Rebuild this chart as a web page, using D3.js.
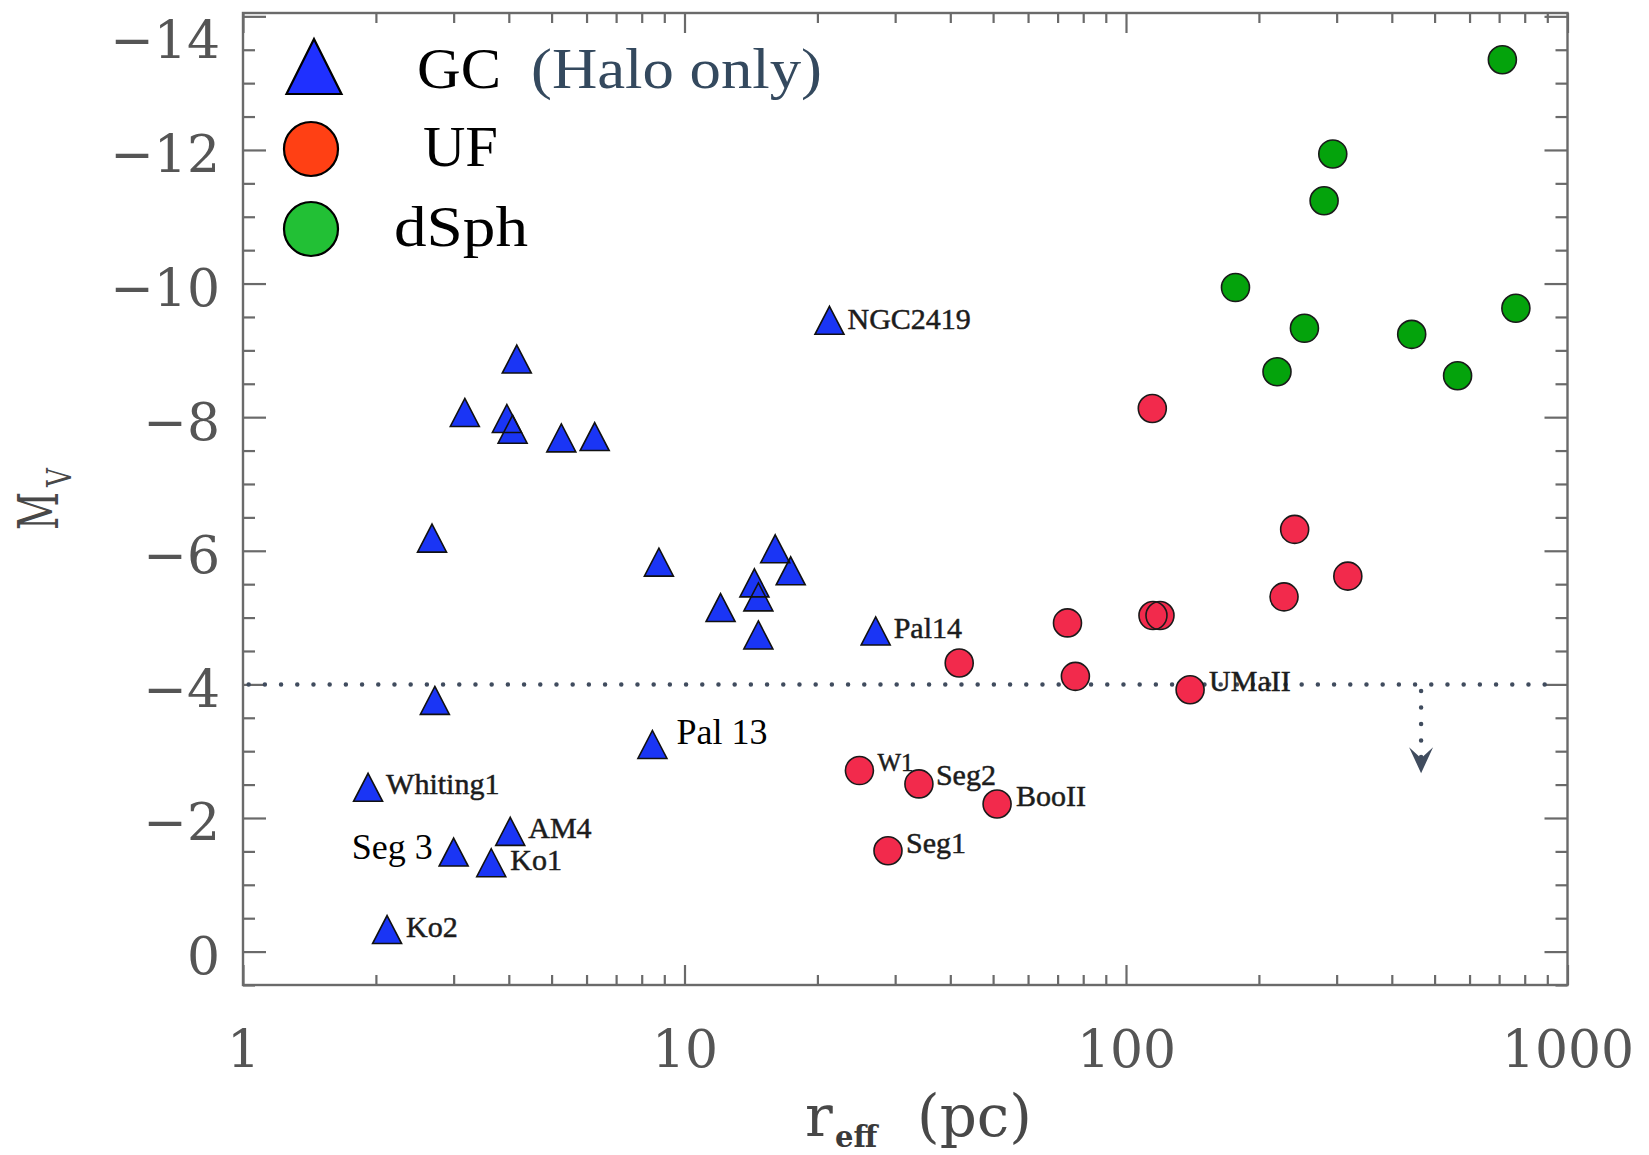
<!DOCTYPE html>
<html>
<head>
<meta charset="utf-8">
<script src="https://cdn.jsdelivr.net/npm/d3@7"></script>
<style>
  html, body { margin: 0; padding: 0; background: #ffffff; }
  svg { display: block; }
</style>
</head>
<body>
<svg id="chart" width="1649" height="1155"></svg>
<script>
// ---------------- DATA ----------------
// Globular clusters (halo only): effective radius (pc), absolute magnitude M_V
const gcNames = ["", "", "", "", "", "", "", "", "", "", "", "", "", "", "NGC2419", "", "Pal 13", "Whiting1", "AM4", "Seg 3", "Ko1", "Ko2", "Pal14"];
const gcReff  = [4.17, 3.18, 3.96, 4.08, 5.26, 6.26, 2.68, 8.75, 16.05, 17.4, 14.4, 14.7, 12.07, 14.7, 21.3, 2.72, 8.46, 1.92, 4.03, 3.0, 3.65, 2.12, 27.1];
const gcMv    = [-8.87, -8.07, -7.98, -7.82, -7.69, -7.71, -6.19, -5.83, -6.03, -5.70, -5.52, -5.31, -5.15, -4.74, -9.45, -3.76, -3.10, -2.46, -1.80, -1.49, -1.33, -0.33, -4.80];

// Ultra-faint dwarfs
const ufNames = ["", "", "", "", "", "", "", "", "", "UMaII", "W1", "Seg2", "BooII", "Seg1"];
const ufReff  = [114.7, 241, 318, 228, 115.1, 119.4, 73.7, 41.9, 76.8, 139.7, 24.9, 33.96, 51.05, 28.9];
const ufMv    = [-8.13, -6.32, -5.62, -5.31, -5.03, -5.03, -4.92, -4.32, -4.12, -3.92, -2.71, -2.51, -2.21, -1.51];

// Classical dwarf spheroidals
const dsReff  = [712, 294, 281, 177, 764, 253.6, 443.7, 219.8, 563.7];
const dsMv    = [-13.35, -11.94, -11.24, -9.94, -9.63, -9.33, -9.24, -8.68, -8.62];

// Threshold line and arrow (data coordinates)
const thresholdMv = -4;
const thresholdR  = [1.03, 910];
const arrowR      = 466;
const arrowMv     = [-3.9, -2.67];

// Axis ticks
const xMajorTicks = [1, 10, 100, 1000];
const yMajorTicks = [0, -2, -4, -6, -8, -10, -12, -14];

// Legend
const legendLabels = ["GC", "UF", "dSph"];
const legendNote = "(Halo only)";

// ---------------- STYLE / LAYOUT ----------------
const W = 1649, H = 1155;
const plot = { left: 243, right: 1567.5, top: 13, bottom: 985 };
const colors = {
  gc: "#1a35f5", uf: "#f22a4c", ds: "#04a30c",
  legGc: "#1f30ff", legUf: "#ff4014", legDs: "#22c035",
  axis: "#6a6a6a", tickText: "#555555", dotted: "#404c5e", note: "#34495e"
};
// label offsets (pixels) relative to the marker
const labelStyle = {
  "NGC2419": { dx: 18, dy: 9 },
  "Whiting1": { dx: 18, dy: 7 },
  "AM4": { dx: 18, dy: 7 },
  "Ko1": { dx: 19, dy: 7 },
  "Ko2": { dx: 19, dy: 7 },
  "Pal14": { dx: 18, dy: 7 },
  "Seg 3": { dx: -21, dy: 7, anchor: "end", pal: true },
  "Pal 13": { dx: 24, dy: -1, pal: true },
  "UMaII": { dx: 19, dy: 1 },
  "W1": { dx: 18, dy: 0, size: 25 },
  "Seg2": { dx: 17, dy: 1 },
  "BooII": { dx: 19, dy: 2 },
  "Seg1": { dx: 18, dy: 2 }
};

const svg = d3.select("#chart");

const x = d3.scaleLog().domain([1, 1000]).range([plot.left, plot.right]);
const y = d3.scaleLinear().domain([0.5, -14.05]).range([plot.bottom, plot.top]);

// minor tick values
const xMinor = [];
[1, 10, 100].forEach(d => { for (let k = 2; k <= 9; k++) xMinor.push(d * k); });
const yMinor = d3.range(0.5, -14.01, -0.5).filter(v => Math.abs(v % 2) > 1e-6);

// ---------------- AXES ----------------
const axesG = svg.append("g");
function styleAxis(g) {
  g.select(".domain").remove();
  g.selectAll(".tick line").attr("stroke", colors.axis).attr("stroke-width", 2.2);
}
// left
axesG.append("g").attr("transform", `translate(${plot.left},0)`)
  .call(d3.axisLeft(y).tickValues(yMajorTicks).tickSize(-23).tickPadding(23)
    .tickFormat(d => d === 0 ? "0" : "\u2212" + Math.abs(d)))
  .call(styleAxis)
  .call(g => g.selectAll("text")
    .attr("font-family", "DejaVu Serif").attr("font-size", 52)
    .attr("fill", colors.tickText).attr("dy", "0.42em")
    .filter(d => d === -14).attr("dy", "0.8em"));
axesG.append("g").attr("transform", `translate(${plot.left},0)`)
  .call(d3.axisLeft(y).tickValues(yMinor).tickSize(-12).tickFormat(""))
  .call(styleAxis);
// right
axesG.append("g").attr("transform", `translate(${plot.right},0)`)
  .call(d3.axisRight(y).tickValues(yMajorTicks).tickSize(-23).tickFormat(""))
  .call(styleAxis);
axesG.append("g").attr("transform", `translate(${plot.right},0)`)
  .call(d3.axisRight(y).tickValues(yMinor).tickSize(-12).tickFormat(""))
  .call(styleAxis);
// bottom
axesG.append("g").attr("transform", `translate(0,${plot.bottom})`)
  .call(d3.axisBottom(x).tickValues(xMajorTicks).tickSize(-20).tickFormat(d3.format("d")))
  .call(styleAxis)
  .call(g => g.selectAll("text")
    .attr("font-family", "DejaVu Serif").attr("font-size", 52)
    .attr("fill", colors.tickText).attr("dy", null).attr("y", 82));
axesG.append("g").attr("transform", `translate(0,${plot.bottom})`)
  .call(d3.axisBottom(x).tickValues(xMinor).tickSize(-10).tickFormat(""))
  .call(styleAxis);
// top
axesG.append("g").attr("transform", `translate(0,${plot.top})`)
  .call(d3.axisTop(x).tickValues(xMajorTicks).tickSize(-20).tickFormat(""))
  .call(styleAxis);
axesG.append("g").attr("transform", `translate(0,${plot.top})`)
  .call(d3.axisTop(x).tickValues(xMinor).tickSize(-10).tickFormat(""))
  .call(styleAxis);
// frame
svg.append("rect")
  .attr("x", plot.left).attr("y", plot.top)
  .attr("width", plot.right - plot.left).attr("height", plot.bottom - plot.top)
  .attr("fill", "none").attr("stroke", colors.axis).attr("stroke-width", 2.4);

// axis titles
const xt = svg.append("text").attr("font-family", "DejaVu Serif").attr("fill", "#484848");
xt.append("tspan").attr("x", 805).attr("y", 1136).attr("font-size", 58).text("r");
xt.append("tspan").attr("x", 835).attr("y", 1147).attr("font-size", 29).attr("font-weight", "bold").attr("fill", "#3a3a3a").text("eff");
xt.append("tspan").attr("x", 917).attr("y", 1136).attr("font-size", 58).text("(pc)");

const yt = svg.append("g").attr("transform", "translate(58,530) rotate(-90)");
yt.append("text").attr("x", 0).attr("y", 0).attr("font-family", "DejaVu Serif")
  .attr("font-size", 56).attr("fill", "#484848")
  .attr("textLength", 38).attr("lengthAdjust", "spacingAndGlyphs").text("M");
yt.append("text").attr("x", 43).attr("y", 13).attr("font-family", "DejaVu Serif")
  .attr("font-size", 34).attr("fill", "#484848")
  .attr("textLength", 19).attr("lengthAdjust", "spacingAndGlyphs").text("V");

// ---------------- THRESHOLD LINE ----------------
const line = d3.line().x(d => x(d[0])).y(d => y(d[1]));
svg.append("path")
  .attr("d", line(thresholdR.map(r => [r, thresholdMv])))
  .attr("fill", "none").attr("stroke", colors.dotted).attr("stroke-width", 4.5)
  .attr("stroke-linecap", "round").attr("stroke-dasharray", "0,16.2");
const ax = x(arrowR), ay0 = y(arrowMv[0]), ay1 = y(arrowMv[1]);
svg.append("path")
  .attr("d", line([[arrowR, arrowMv[0]], [arrowR, arrowMv[1] - 0.2]]))
  .attr("fill", "none").attr("stroke", colors.dotted).attr("stroke-width", 4.5)
  .attr("stroke-linecap", "round").attr("stroke-dasharray", "0,16.5");
svg.append("path")
  .attr("d", `M${ax},${ay1} L${ax - 12},${ay1 - 26} L${ax},${ay1 - 15} L${ax + 12},${ay1 - 26} Z`)
  .attr("fill", colors.dotted);

// ---------------- MARKERS ----------------
const gc = gcReff.map((r, i) => ({ r, m: gcMv[i], name: gcNames[i] }));
const uf = ufReff.map((r, i) => ({ r, m: ufMv[i], name: ufNames[i] }));
const ds = dsReff.map((r, i) => ({ r, m: dsMv[i] }));

function triPath(cx, cy, w, h) {
  return `M${cx},${cy - h / 2} L${cx + w / 2},${cy + h / 2} L${cx - w / 2},${cy + h / 2} Z`;
}

function drawCircles(data, fill) {
  const g = svg.append("g");
  g.selectAll("circle.f").data(data).join("circle").attr("class", "f")
    .attr("cx", d => x(d.r)).attr("cy", d => y(d.m)).attr("r", 14)
    .attr("fill", fill);
  g.selectAll("circle.s").data(data).join("circle").attr("class", "s")
    .attr("cx", d => x(d.r)).attr("cy", d => y(d.m)).attr("r", 14)
    .attr("fill", "none").attr("stroke", "#1a1a1a").attr("stroke-width", 1.6);
}
drawCircles(ds, colors.ds);
drawCircles(uf, colors.uf);

const gG = svg.append("g");
gG.selectAll("path.f").data(gc).join("path").attr("class", "f")
  .attr("d", d => triPath(x(d.r), y(d.m), 29, 28)).attr("fill", colors.gc);
gG.selectAll("path.s").data(gc).join("path").attr("class", "s")
  .attr("d", d => triPath(x(d.r), y(d.m), 29, 28))
  .attr("fill", "none").attr("stroke", "#111").attr("stroke-width", 1.6)
  .attr("stroke-linejoin", "miter");

// labels
const labeled = gc.concat(uf).filter(d => d.name);
svg.append("g").selectAll("text").data(labeled).join("text")
  .attr("x", d => x(d.r) + labelStyle[d.name].dx)
  .attr("y", d => y(d.m) + labelStyle[d.name].dy)
  .attr("text-anchor", d => labelStyle[d.name].anchor || "start")
  .attr("font-family", "Liberation Serif")
  .attr("font-size", d => labelStyle[d.name].pal ? 36 : (labelStyle[d.name].size || 30))
  .attr("fill", d => labelStyle[d.name].pal ? "#000" : "#1c1c1c")
  .attr("stroke", d => labelStyle[d.name].pal ? "none" : "#1c1c1c")
  .attr("stroke-width", 0.5)
  .text(d => d.name);

// ---------------- LEGEND ----------------
const leg = svg.append("g");
leg.append("path").attr("d", triPath(314, 66.5, 55, 55))
  .attr("fill", colors.legGc).attr("stroke", "#000").attr("stroke-width", 2.2);
leg.append("circle").attr("cx", 311).attr("cy", 149).attr("r", 27)
  .attr("fill", colors.legUf).attr("stroke", "#000").attr("stroke-width", 2.2);
leg.append("circle").attr("cx", 311).attr("cy", 229).attr("r", 27)
  .attr("fill", colors.legDs).attr("stroke", "#000").attr("stroke-width", 2.2);

const legText = [
  { t: legendLabels[0], x: 417, y: 88, w: 84, c: "#000" },
  { t: legendNote, x: 531, y: 88, w: 291, c: colors.note },
  { t: legendLabels[1], x: 423, y: 166, w: 75, c: "#000" },
  { t: legendLabels[2], x: 394, y: 246, w: 134, c: "#000" }
];
leg.selectAll("text").data(legText).join("text")
  .attr("x", d => d.x).attr("y", d => d.y)
  .attr("font-family", "Liberation Serif").attr("font-size", 58)
  .attr("fill", d => d.c)
  .attr("textLength", d => d.w).attr("lengthAdjust", "spacingAndGlyphs")
  .text(d => d.t);
</script>
</body>
</html>
